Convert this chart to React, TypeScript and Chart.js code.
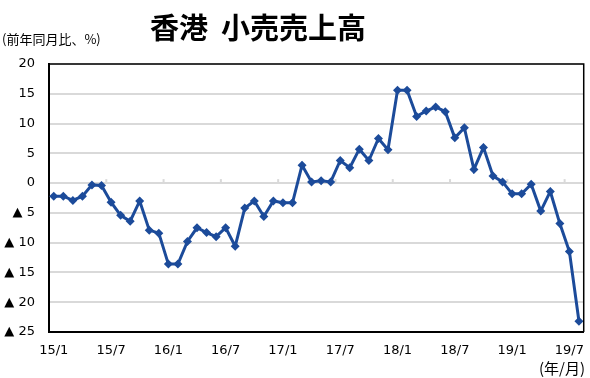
import React, { useEffect, useRef } from 'react';
import { Chart, registerables } from 'chart.js';

Chart.register(...registerables);

const categories = [
  '15/1', '15/2', '15/3', '15/4', '15/5', '15/6', '15/7', '15/8', '15/9', '15/10', '15/11', '15/12',
  '16/1', '16/2', '16/3', '16/4', '16/5', '16/6', '16/7', '16/8', '16/9', '16/10', '16/11', '16/12',
  '17/1', '17/2', '17/3', '17/4', '17/5', '17/6', '17/7', '17/8', '17/9', '17/10', '17/11', '17/12',
  '18/1', '18/2', '18/3', '18/4', '18/5', '18/6', '18/7', '18/8', '18/9', '18/10', '18/11', '18/12',
  '19/1', '19/2', '19/3', '19/4', '19/5', '19/6', '19/7', '19/8',
];

const retailSales = [
  -2.2, -2.2, -2.9, -2.2, -0.3, -0.4, -3.2, -5.4, -6.4, -3.0, -7.9, -8.4,
  -13.6, -13.6, -9.8, -7.5, -8.3, -9.0, -7.5, -10.6, -4.2, -3.0, -5.6, -3.0,
  -3.3, -3.3, 3.0, 0.2, 0.4, 0.2, 3.8, 2.6, 5.7, 3.8, 7.5, 5.6,
  15.6, 15.6, 11.2, 12.1, 12.8, 12.0, 7.6, 9.3, 2.3, 6.0, 1.2, 0.2,
  -1.8, -1.8, -0.2, -4.7, -1.4, -6.8, -11.5, -23.2,
];

const tickLabels = ['15/1', '15/7', '16/1', '16/7', '17/1', '17/7', '18/1', '18/7', '19/1', '19/7'];

const titleText = '香港  小売売上高';
const unitText = '(前年同月比、%)';
const axisUnitText = '(年/月)';

const yMin = -25;
const yMax = 20;
const yStep = 5;

const CJK = '"Noto Sans CJK JP", "Noto Sans CJK SC", sans-serif';
const LATIN = '"DejaVu Sans", Verdana, sans-serif';

const decorPlugin = {
  id: 'decor',
  beforeDatasetsDraw(chart: any) {
    const { ctx, chartArea, scales } = chart;
    const xs = scales.x;
    const ys = scales.y;
    const y0 = ys.getPixelForValue(0);
    ctx.save();
    ctx.strokeStyle = '#d9d9d9';
    ctx.lineWidth = 2;
    for (let k = 6; k < categories.length; k += 6) {
      const x = (xs.getPixelForValue(k - 1) + xs.getPixelForValue(k)) / 2;
      ctx.beginPath();
      ctx.moveTo(x, y0);
      ctx.lineTo(x, y0 - 4);
      ctx.stroke();
    }
    ctx.restore();
  },
  afterDraw(chart: any) {
    const { ctx, chartArea } = chart;
    ctx.save();
    // top & right frame
    ctx.strokeStyle = '#000';
    ctx.lineWidth = 1.5;
    ctx.beginPath();
    ctx.moveTo(chartArea.left, chartArea.top);
    ctx.lineTo(chartArea.right, chartArea.top);
    ctx.lineTo(chartArea.right, chartArea.bottom);
    ctx.stroke();

    ctx.fillStyle = '#000';
    ctx.textBaseline = 'middle';
    ctx.textAlign = 'center';
    ctx.font = `bold 29px ${CJK}`;
    ctx.fillText(titleText, 258, 28);

    ctx.textAlign = 'left';
    ctx.font = `13px ${CJK}`;
    ctx.fillText(unitText, 2, 39);

    ctx.textAlign = 'right';
    ctx.font = `15px ${CJK}`;
    ctx.fillText(axisUnitText, 585, 368);
    ctx.restore();
  },
};

export default function App() {
  const canvasRef = useRef<HTMLCanvasElement>(null);

  useEffect(() => {
    if (!canvasRef.current) return;
    const chart = new Chart(canvasRef.current, {
      type: 'line',
      data: {
        labels: categories,
        datasets: [
          {
            data: retailSales,
            borderColor: '#1c4b9a',
            backgroundColor: '#1c4b9a',
            borderWidth: 3,
            pointStyle: 'rectRot',
            pointRadius: 4.5,
            pointBorderWidth: 0,
            pointBackgroundColor: '#1c4b9a',
            tension: 0,
          },
        ],
      },
      options: {
        animation: false,
        responsive: false,
        maintainAspectRatio: false,
        layout: { padding: { left: 0, top: 64, right: 6, bottom: 0 } },
        plugins: {
          legend: { display: false },
          title: { display: false },
          tooltip: { enabled: false },
        },
        scales: {
          x: {
            type: 'category',
            offset: true,
            grid: { display: false, drawTicks: false },
            border: { display: true, color: '#000', width: 2 },
            ticks: {
              autoSkip: false,
              maxRotation: 0,
              minRotation: 0,
              padding: 11,
              color: '#000',
              font: { family: LATIN, size: 13 },
              callback: (_v: any, i: number) => (tickLabels.includes(categories[i]) ? categories[i] : ''),
            },
            afterFit: (s: any) => {
              s.height = 46;
            },
          },
          y: {
            min: yMin,
            max: yMax,
            grid: { color: '#d9d9d9', lineWidth: 2, drawTicks: false },
            border: { display: true, color: '#000', width: 2 },
            ticks: {
              stepSize: yStep,
              padding: 14,
              color: '#000',
              font: { family: LATIN, size: 13 },
              callback: (v: any) => (Number(v) < 0 ? '▲ ' + String(-Number(v)) : String(v)),
            },
            afterFit: (s: any) => {
              s.width = 49;
            },
          },
        },
      },
      plugins: [decorPlugin],
    });
    return () => chart.destroy();
  }, []);

  return (
    <div style={{ position: 'fixed', left: 0, top: 0, width: 590, height: 378, background: '#fff' }}>
      <canvas ref={canvasRef} width={590} height={378} style={{ width: 590, height: 378 }} />
    </div>
  );
}
